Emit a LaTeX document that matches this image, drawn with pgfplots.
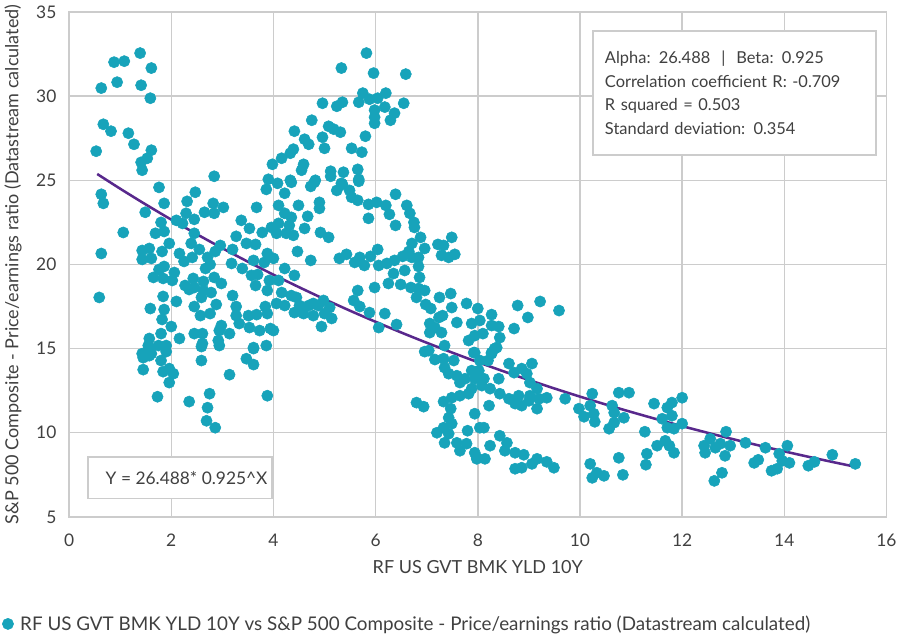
\documentclass[border=0pt]{standalone}
\usepackage{fontspec}
\setmainfont{Lato}
\usepackage{pgfplots}
\pgfplotsset{compat=1.18}
\definecolor{dotc}{RGB}{23,163,186}
\definecolor{fitc}{RGB}{88,40,140}
\definecolor{gridc}{RGB}{204,204,204}
\definecolor{txtc}{RGB}{64,64,64}
\begin{document}
\begin{tikzpicture}
\begin{axis}[
    width=612pt, height=378pt, scale only axis,
    xmin=0, xmax=16, ymin=5, ymax=35,
    xtick={0,2,...,16}, ytick={5,10,...,35},
    grid=major, grid style={gridc, line width=1.1pt},
    axis line style={gridc, line width=1.1pt},
    major tick length=0pt,
    tick label style={font=\fontsize{13}{15}\selectfont, text=txtc},
    xticklabel style={yshift=-9pt},
    yticklabel style={xshift=-6pt},
    /pgf/number format/assume math mode=true,
    xlabel={RF US GVT BMK YLD 10Y},
    ylabel={S\&P 500 Composite - Price/earnings ratio (Datastream calculated)},
    label style={font=\fontsize{13.5}{15}\selectfont, text=txtc},
    xlabel style={yshift=-4pt},
    ylabel style={yshift=4pt},
    legend style={at={(-0.082,-0.212)}, anchor=west, draw=none, fill=none,
        font=\fontsize{14.1}{16}\selectfont, text=txtc, inner sep=0pt,
        column sep=3pt},
    legend cell align=left,
]
\addplot[only marks, mark=*, mark size=4.2pt, color=dotc] coordinates {
(1.39,32.56)(0.88,32.02)(1.08,32.08)(1.61,31.67)(0.94,30.83)(1.41,30.65)(0.63,30.48)(1.59,29.88)
(0.67,28.33)(0.82,27.92)(1.16,27.80)(1.27,27.14)(0.53,26.73)(1.61,26.79)(1.53,26.31)(1.41,26.07)
(1.43,25.60)(2.84,25.24)(3.98,25.95)(3.90,25.06)(1.76,24.58)
(5.82,32.56)(5.33,31.67)(5.96,31.37)(6.59,31.31)(5.75,30.18)(6.20,30.18)(5.88,29.82)(6.04,29.88)
(5.67,29.64)(4.96,29.58)(5.24,29.40)(5.35,29.64)(5.98,29.17)(6.18,29.35)(6.55,29.58)(6.37,28.99)
(6.29,28.57)(5.98,28.75)(5.98,28.39)(4.75,28.57)(5.08,28.21)(5.18,28.04)(5.31,27.86)(4.41,27.92)
(5.80,27.62)(4.61,27.44)(4.69,27.14)(4.96,27.56)(5.00,26.90)(5.53,26.90)(5.73,26.67)(4.39,26.85)
(4.33,26.61)(4.16,26.31)(4.59,25.95)(4.55,25.60)(5.12,25.54)(5.12,25.24)(5.37,25.48)(5.65,25.65)
(5.67,25.06)(4.82,25.00)(4.33,25.00)(4.08,24.82)(4.73,24.64)(5.35,24.76)
(0.63,24.17)(0.67,23.63)(2.47,24.29)(1.86,23.63)(1.49,23.10)(2.31,23.75)(2.82,23.63)(3.02,23.39)
(2.65,23.10)(2.84,23.04)(2.29,23.04)(3.67,23.39)(3.86,24.46)(1.80,22.50)(2.10,22.62)(2.45,22.68)
(2.22,22.44)(1.06,21.90)(1.69,21.85)(1.86,21.96)(2.45,21.85)(3.37,22.62)(3.53,22.14)(3.27,21.67)
(3.78,21.90)(3.96,22.20)(1.96,21.25)(2.39,21.25)(2.55,20.89)(2.96,21.13)(3.20,20.89)(3.47,21.25)
(3.65,21.19)(3.88,20.65)(0.63,20.65)(1.43,20.83)(1.57,20.95)(1.43,20.30)(1.82,20.77)(1.61,20.36)
(2.16,20.65)(2.25,20.18)(2.41,20.42)(2.71,20.42)(2.76,20.00)(2.86,20.77)(3.18,20.06)(3.39,19.76)
(3.61,20.24)(3.82,20.12)(1.76,19.70)(1.86,19.88)(2.06,19.52)(2.67,19.76)(2.84,19.23)(1.65,19.23)
(1.84,19.17)(2.02,19.05)(2.43,19.17)(2.63,18.99)(2.98,18.87)(3.57,19.35)(3.69,19.40)(3.65,18.75)
(3.92,19.05)(2.27,18.75)(2.45,18.63)(2.63,18.45)(2.78,18.33)(2.35,18.51)(1.84,18.10)(2.10,17.80)
(0.59,18.04)(2.59,18.04)(3.20,18.15)(3.88,18.45)(1.59,17.38)(1.86,17.32)(2.45,17.50)(2.88,17.62)
(3.27,17.50)(3.84,17.50)(2.57,16.96)(2.76,17.08)(1.82,16.73)(3.27,16.96)(3.51,16.96)(3.67,17.02)
(3.88,17.08)(3.33,16.49)(3.53,16.25)(3.73,16.07)(3.94,16.19)(2.00,16.31)(2.98,16.37)(2.94,16.07)
(3.14,15.89)(2.45,15.89)(2.61,15.89)(1.80,15.89)(1.57,15.60)(2.16,15.60)(2.92,15.48)(2.61,15.30)
(1.55,15.18)(1.75,15.18)(1.90,15.18)(3.61,15.06)(1.43,14.70)(1.61,14.70)(1.90,14.82)(3.86,15.18)
(1.57,15.06)(1.45,14.46)(1.57,14.58)(1.80,14.29)(1.45,13.75)(1.84,13.63)(1.96,13.81)(2.04,13.51)
(1.96,12.98)(1.73,12.14)(2.59,14.29)(2.59,15.12)(2.94,15.18)(3.14,13.45)(3.47,14.40)(3.61,14.05)
(3.61,15.00)(2.75,12.32)(2.35,11.85)(2.71,11.49)(2.69,10.71)(2.86,10.30)(3.88,12.20)
(4.35,24.88)(4.80,24.88)(5.33,24.82)(5.67,24.94)(4.22,24.23)(4.10,23.51)(4.49,23.51)(4.90,23.69)
(4.90,23.33)(5.24,24.40)(5.49,24.40)(5.53,23.99)(5.65,23.81)(5.86,23.57)(6.02,23.69)(6.20,23.51)
(6.39,24.17)(6.61,23.51)(6.67,23.04)(6.75,22.50)(6.76,22.20)(5.86,22.74)(6.27,22.98)(6.39,22.32)
(4.22,23.04)(4.35,22.80)(4.67,22.86)(4.10,22.44)(4.31,22.32)(4.61,22.14)(4.06,21.85)(4.25,21.85)
(4.39,21.73)(4.92,21.90)(5.08,21.61)(4.47,20.77)(4.73,20.24)(4.00,20.36)(5.29,20.36)(5.43,20.60)
(5.59,20.12)(5.69,20.42)(5.78,19.94)(5.90,20.48)(6.04,20.89)(6.06,19.94)(6.22,20.06)(6.37,20.24)
(6.53,20.48)(6.65,20.77)(6.71,21.25)(6.71,20.42)(6.84,20.42)(6.88,21.61)(6.96,20.95)(7.22,21.19)
(7.33,21.13)(7.49,21.61)(7.29,20.54)(7.43,20.42)(7.55,20.60)(6.84,19.88)(6.86,19.23)(6.57,19.64)
(6.35,19.46)(4.22,19.76)(4.41,19.35)(4.10,19.05)(4.35,18.15)(4.16,18.33)(4.06,17.68)(4.45,18.04)
(4.51,17.56)(4.78,17.68)(4.98,17.86)(5.10,17.44)(4.59,17.08)(4.78,16.96)(5.00,17.08)(4.94,16.31)
(5.14,16.79)(4.00,16.07)(4.22,17.56)(4.41,17.14)(4.69,17.56)(4.88,17.56)
(5.65,18.45)(5.98,18.63)(6.25,18.87)(6.49,18.81)(6.69,18.63)(6.84,18.57)(6.96,18.45)(6.80,18.04)
(5.57,17.86)(5.69,17.50)(5.88,17.14)(6.18,17.08)(6.06,16.25)(6.41,16.43)(6.98,17.62)(7.08,17.38)
(7.24,16.85)(7.31,16.96)(7.06,16.49)(7.16,16.25)(7.06,15.95)(7.29,15.95)(7.25,18.04)(7.47,18.27)
(7.49,17.44)(7.59,16.55)(7.78,17.68)(7.88,16.49)(8.00,17.38)(7.82,15.48)(7.94,15.77)(7.35,15.18)
(7.04,14.88)(7.92,14.76)
(6.96,14.82)(7.16,14.35)(7.33,14.40)(7.53,14.29)(7.35,13.87)(7.43,13.51)(7.59,13.39)(7.75,13.21)
(7.88,13.69)(7.94,13.21)(7.94,14.76)(7.65,12.98)(7.88,12.62)(7.82,12.32)(7.65,12.20)(7.49,12.08)
(7.33,11.85)(6.80,11.79)(6.94,11.55)(7.47,11.43)(7.43,10.89)(7.94,11.13)(7.49,10.54)(7.33,10.30)
(7.20,10.00)(7.43,9.94)(7.35,9.40)(7.59,9.40)(7.80,10.12)(7.78,9.35)(7.65,8.93)(7.94,8.81)
(7.98,8.45)(8.04,10.30)
(8.33,15.00)(8.27,14.70)(8.20,14.29)(8.04,14.29)(8.02,13.69)(8.12,13.21)(8.08,12.80)(8.24,12.62)
(8.43,12.32)(8.61,14.11)(8.86,13.81)(9.06,14.11)(8.96,13.51)(8.71,13.57)(8.41,13.21)(9.02,12.98)
(9.16,12.62)(8.80,12.20)(8.61,12.02)(8.73,11.73)(8.86,11.61)(9.00,11.90)(9.02,12.20)(9.20,12.02)
(9.16,11.43)(9.35,12.08)(8.22,11.61)(8.12,10.30)(9.71,12.02)(9.98,11.43)(10.24,12.32)(10.20,11.61)
(10.08,10.95)(10.27,11.13)(10.29,10.65)(10.63,11.61)(10.67,11.19)(10.76,12.38)(10.96,12.38)(10.86,10.89)
(10.67,10.60)(10.57,10.24)(11.45,11.73)(11.71,11.49)(11.80,11.79)(12.00,12.08)(11.61,10.83)(11.80,11.01)
(11.71,10.30)(11.84,10.24)(12.00,10.54)(11.27,10.06)(8.43,9.82)(8.57,9.40)(8.24,9.23)(8.53,8.93)
(8.73,8.81)(8.90,8.69)(9.16,8.45)(9.35,8.27)(9.06,8.15)(8.86,7.92)(8.73,7.86)(9.49,7.92)
(7.98,8.51)(8.14,8.45)(10.20,8.15)(10.24,7.32)(10.33,7.62)(10.47,7.44)(10.76,8.51)(10.84,7.50)
(11.31,8.75)(11.29,8.10)(11.51,9.23)(11.67,9.52)(11.75,9.23)(11.84,8.81)
(12.86,10.06)(12.55,9.64)(12.43,9.23)(12.65,9.11)(12.75,9.35)(12.94,9.23)(12.45,8.81)(12.84,8.63)
(13.24,9.40)(13.63,9.11)(13.41,8.21)(13.49,8.39)(13.90,8.75)(13.96,8.33)(14.06,9.23)(14.10,8.21)
(13.75,7.74)(13.86,7.86)(12.78,7.62)(12.63,7.14)(14.47,8.04)(14.59,8.27)(14.94,8.69)(15.39,8.15)
(8.27,17.02)(8.78,17.56)(9.22,17.80)(8.98,16.85)(9.59,17.26)(8.71,16.19)(8.04,16.67)(8.27,16.37)
(8.41,16.31)(8.10,15.89)(8.43,15.65)(8.37,15.06)(8.27,14.76)
};
\addlegendentry{RF US GVT BMK YLD 10Y vs S\&P 500 Composite - Price/earnings ratio (Datastream calculated)}
\addplot[smooth, color=fitc, line width=1.9pt, forget plot] coordinates {
(0.55,25.376)(1,24.501)(1.5,23.565)(2,22.664)(2.5,21.798)(3,20.964)(3.5,20.163)(4,19.392)
(4.5,18.651)(5,17.937)(5.5,17.251)(6,16.592)(6.5,15.958)(7,15.348)(7.5,14.761)(8,14.196)
(8.5,13.654)(9,13.132)(9.5,12.630)(10,12.147)(10.5,11.683)(11,11.236)(11.5,10.807)(12,10.393)
(12.5,9.996)(13,9.614)(13.5,9.246)(14,8.893)(14.5,8.553)(15,8.226)(15.4,7.973)
};
\node[draw=gridc, line width=1.1pt, fill=white, anchor=north west, align=left,
      text width=194pt, minimum height=93pt, inner xsep=9pt, inner ysep=10pt,
      font=\fontsize{12.3}{17.6}\selectfont, text=txtc]
  at (axis cs:10.24,33.93)
  {Alpha: 26.488 \ {\textbar} \ Beta: 0.925\\
   Correlation coefficient R: -0.709\\
   R squared = 0.503\\
   Standard deviation: 0.354};
\node[draw=gridc, line width=1.1pt, fill=white, minimum width=133pt, minimum height=31pt,
      font=\fontsize{13}{15}\selectfont, text=txtc]
  at (axis cs:2.17,7.32) {\hspace*{10pt}Y = 26.488* 0.925\textasciicircum X};
\end{axis}
\end{tikzpicture}
\end{document}
